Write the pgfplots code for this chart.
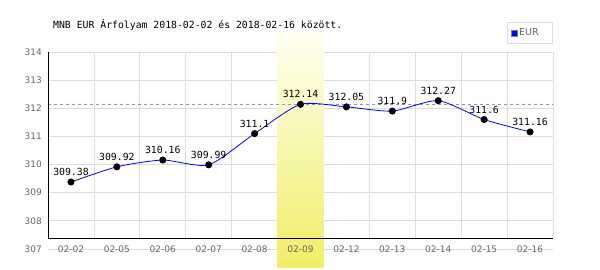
\documentclass[border=0pt]{standalone}
\usepackage{fontspec}
\setmainfont{DejaVu Sans}
\newfontfamily\mono{DejaVu Sans Mono}
\usepackage{pgfplots}
\pgfplotsset{compat=1.18}
\usepackage{pgfplotstable}
\definecolor{gridc}{HTML}{DDDDDD}
\definecolor{tickc}{HTML}{666666}
\definecolor{lineblue}{HTML}{0000FF}
\definecolor{dashc}{HTML}{8888FF}
\definecolor{hltop}{HTML}{FFFFF2}
\definecolor{hlbot}{HTML}{F0EE66}
\pgfplotstableread{
x lab val
0 309.38 309.38
1 309.92 309.92
2 310.16 310.16
3 309.99 309.99
4 311.1 311.1
5 312.14 312.14
6 312.05 312.05
7 311.9 311.9
8 312.27 312.27
9 311.6 311.6
10 311.16 311.16
}\datatab
\begin{document}
\begin{tikzpicture}
\useasboundingbox (0pt,0pt) rectangle (600pt,270pt);
\node[anchor=base west, font=\mono\fontsize{9.8}{12}\selectfont, inner sep=0pt] at (53pt,241pt) {MNB EUR Árfolyam 2018-02-02 és 2018-02-16 között.};
\begin{axis}[
  axis on top,
  at={(48pt,21pt)}, anchor=south west, scale only axis,
  width=505pt, height=217pt,
  xmin=-0.5, xmax=10.5, ymin=307, ymax=314.71,
  clip=false,
  axis line style={draw=none},
  major tick length=0pt,
  xtick={0,...,10},
  xticklabels={02-02,02-05,02-06,02-07,02-08,02-09,02-12,02-13,02-14,02-15,02-16},
  ytick={307,...,314},
  /pgf/number format/assume math mode=true,
  tick label style={font=\fontsize{9}{11}\selectfont, text=tickc},
  xticklabel style={anchor=center, inner sep=0pt},
  yticklabel style={anchor=east, inner sep=0pt, xshift=-6pt},
  legend style={at={(axis description cs:0.998,1.046)}, anchor=north east, draw=gridc,
    font=\fontsize{9.5}{11}\selectfont, text=tickc, inner xsep=3pt, inner ysep=4.5pt},
  legend cell align=left,
]
% grid
\draw[gridc, line width=0.8pt] (axis cs:0.5,307.39) -- (axis cs:0.5,314);
\draw[gridc, line width=0.8pt] (axis cs:1.5,307.39) -- (axis cs:1.5,314);
\draw[gridc, line width=0.8pt] (axis cs:2.5,307.39) -- (axis cs:2.5,314);
\draw[gridc, line width=0.8pt] (axis cs:3.5,307.39) -- (axis cs:3.5,314);
\draw[gridc, line width=0.8pt] (axis cs:4.5,307.39) -- (axis cs:4.5,314);
\draw[gridc, line width=0.8pt] (axis cs:5.5,307.39) -- (axis cs:5.5,314);
\draw[gridc, line width=0.8pt] (axis cs:6.5,307.39) -- (axis cs:6.5,314);
\draw[gridc, line width=0.8pt] (axis cs:7.5,307.39) -- (axis cs:7.5,314);
\draw[gridc, line width=0.8pt] (axis cs:8.5,307.39) -- (axis cs:8.5,314);
\draw[gridc, line width=0.8pt] (axis cs:9.5,307.39) -- (axis cs:9.5,314);
\draw[gridc, line width=0.8pt] (axis cs:10.5,307.39) -- (axis cs:10.5,314);
\draw[gridc, line width=0.8pt] (axis cs:-0.5,307) -- (axis cs:10.5,307);
\draw[gridc, line width=0.8pt] (axis cs:-0.5,308) -- (axis cs:10.5,308);
\draw[gridc, line width=0.8pt] (axis cs:-0.5,309) -- (axis cs:10.5,309);
\draw[gridc, line width=0.8pt] (axis cs:-0.5,310) -- (axis cs:10.5,310);
\draw[gridc, line width=0.8pt] (axis cs:-0.5,311) -- (axis cs:10.5,311);
\draw[gridc, line width=0.8pt] (axis cs:-0.5,312) -- (axis cs:10.5,312);
\draw[gridc, line width=0.8pt] (axis cs:-0.5,313) -- (axis cs:10.5,313);
\draw[gridc, line width=0.8pt] (axis cs:-0.5,314) -- (axis cs:10.5,314);
% highlight
\fill[top color=hltop, bottom color=hlbot] (axis cs:4.5,306.36) rectangle (axis cs:5.5,314.71);
% reference dashed line
\draw[dashc, line width=0.8pt, dash pattern=on 3pt off 3pt] (axis cs:-0.5,312.14) -- (axis cs:10.5,312.14);
% axes
\draw[black, line width=1pt] (axis cs:-0.5,314) -- (axis cs:-0.5,307.39) -- (axis cs:10.5,307.39);
\addplot[lineblue, line width=0.8pt, smooth, tension=0.4,
  mark=*, mark size=3.1pt, mark options={draw=black, fill=black},
  point meta=explicit symbolic,
  nodes near coords={\pgfplotspointmeta},
  nodes near coords style={font=\mono\fontsize{9.8}{12}\selectfont, anchor=base, inner sep=0pt, yshift=6.5pt, text=black},
  legend image code/.code={\draw[fill=blue, draw=gray, line width=0.6pt] (0pt,-3pt) rectangle (6pt,3pt);},
] table[x=x, y=val, meta=lab] {\datatab};
\addlegendentry{EUR\rule{8pt}{0pt}}
\end{axis}
\end{tikzpicture}
\end{document}
